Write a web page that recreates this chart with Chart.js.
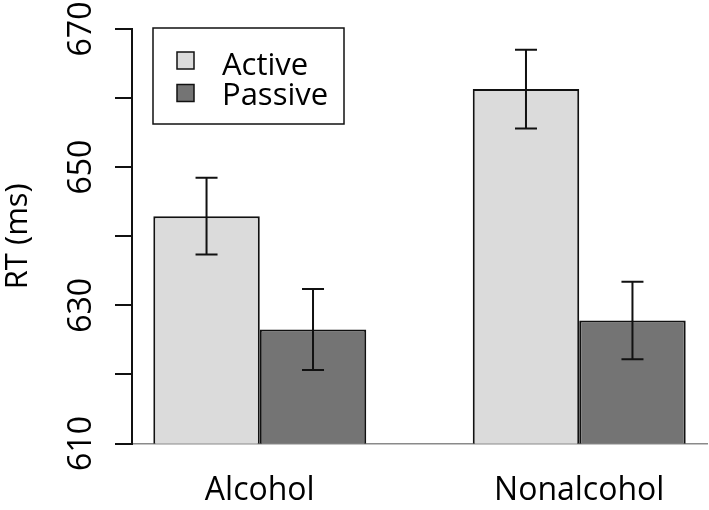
<!DOCTYPE html>
<html>
<head>
<meta charset="utf-8">
<script src="https://cdn.jsdelivr.net/npm/chart.js@4/dist/chart.umd.min.js"></script>
<style>
  html, body { margin: 0; padding: 0; background: #fff; }
  #wrap { width: 709px; height: 510px; }
</style>
</head>
<body>
<div id="wrap"><canvas id="c" width="709" height="510"></canvas></div>
<script>
// ---- data ----
const categories = ['Alcohol', 'Nonalcohol'];
const seriesNames = ['Active', 'Passive'];
const activeRT = [642.9, 661.3];
const passiveRT = [626.5, 627.8];
const activeErr = [5.55, 5.7];
const passiveErr = [5.85, 5.6];
const yTickLabels = [610, 630, 650, 670];

// group centres on a linear index axis (R barplot style spacing)
const groupPos = categories.map((c, i) => 2 + 3 * i);

Chart.defaults.font.family = "'Open Sans', 'DejaVu Sans', sans-serif";
Chart.defaults.color = '#000';

const errorBars = {
  id: 'errorBars',
  afterDatasetsDraw(chart) {
    const ctx = chart.ctx;
    const y = chart.scales.y;
    ctx.save();
    ctx.strokeStyle = '#111';
    ctx.lineWidth = 2;
    chart.data.datasets.forEach((ds, di) => {
      const meta = chart.getDatasetMeta(di);
      meta.data.forEach((bar, j) => {
        const v = ds.data[j].y;
        const e = ds.errors[j];
        const yt = y.getPixelForValue(v + e);
        const yb = y.getPixelForValue(v - e);
        const cap = 11;
        ctx.beginPath();
        ctx.moveTo(bar.x, yt); ctx.lineTo(bar.x, yb);
        ctx.moveTo(bar.x - cap, yt); ctx.lineTo(bar.x + cap, yt);
        ctx.moveTo(bar.x - cap, yb); ctx.lineTo(bar.x + cap, yb);
        ctx.stroke();
      });
    });
    ctx.restore();
  }
};

const boxLegend = {
  id: 'boxLegend',
  afterDraw(chart) {
    const ctx = chart.ctx;
    const a = chart.chartArea;
    const x0 = a.left + 21, y0 = a.top - 1, w = 191, h = 96;
    ctx.save();
    ctx.fillStyle = '#fff';
    ctx.fillRect(x0, y0, w, h);
    ctx.strokeStyle = '#111';
    ctx.lineWidth = 1.5;
    ctx.strokeRect(x0, y0, w, h);
    ctx.font = "31px 'Open Sans'";
    ctx.textBaseline = 'alphabetic';
    ctx.textAlign = 'left';
    chart.data.datasets.forEach((ds, i) => {
      const sy = y0 + 24 + i * 32.5;
      ctx.fillStyle = ds.backgroundColor;
      ctx.fillRect(x0 + 24, sy, 17, 17);
      ctx.lineWidth = 1.5;
      ctx.strokeRect(x0 + 24, sy, 17, 17);
      ctx.fillStyle = '#000';
      ctx.fillText(ds.label, x0 + 69, y0 + 46.5 + i * 30.5);
    });
    ctx.restore();
  }
};

const mk = (vals) => vals.map((v, i) => ({ x: groupPos[i], y: v }));

new Chart(document.getElementById('c'), {
  type: 'bar',
  data: {
    datasets: [
      { label: seriesNames[0], data: mk(activeRT), errors: activeErr,
        backgroundColor: '#dbdbdb', borderColor: '#111', borderWidth: 2, borderSkipped: false },
      { label: seriesNames[1], data: mk(passiveRT), errors: passiveErr,
        backgroundColor: '#747474', borderColor: '#111', borderWidth: 2, borderSkipped: false }
    ]
  },
  options: {
    responsive: false,
    animation: false,
    devicePixelRatio: 1,
    categoryPercentage: 2 / 3,
    barPercentage: 1,
    layout: { padding: { left: 0, right: 2, top: 29, bottom: 0 } },
    plugins: { legend: { display: false }, tooltip: { enabled: false } },
    scales: {
      x: {
        type: 'linear',
        min: 0.8, max: 6.2,
        offset: false,
        afterBuildTicks: (s) => { s.ticks = groupPos.map(v => ({ value: v })); },
        afterFit: (s) => { s.height = 66.5; },
        grid: { display: false, drawTicks: false, offset: false },
        border: { display: true, color: '#8a8a8a', width: 1.5 },
        ticks: {
          padding: 28,
          font: { size: 32 },
          color: '#000',
          maxRotation: 0, minRotation: 0,
          callback: (v, i) => categories[i]
        }
      },
      y: {
        min: 610, max: 670,
        afterFit: (s) => { s.width = 132; },
        grid: { display: true, drawOnChartArea: false, drawTicks: true, tickLength: 17, color: '#111', lineWidth: 2, tickColor: '#111', tickWidth: 2 },
        border: { display: true, color: '#111', width: 2 },
        title: { display: true, text: 'RT (ms)', font: { size: 31 }, color: '#000', padding: { top: 0, bottom: 0 } },
        ticks: {
          stepSize: 10,
          padding: 5.5,
          crossAlign: 'center',
          minRotation: 90, maxRotation: 90,
          font: { size: 32 },
          color: '#000',
          callback: (v) => yTickLabels.includes(v) ? String(v) : ''
        }
      }
    }
  },
  plugins: [errorBars, boxLegend]
});
</script>
</body>
</html>
